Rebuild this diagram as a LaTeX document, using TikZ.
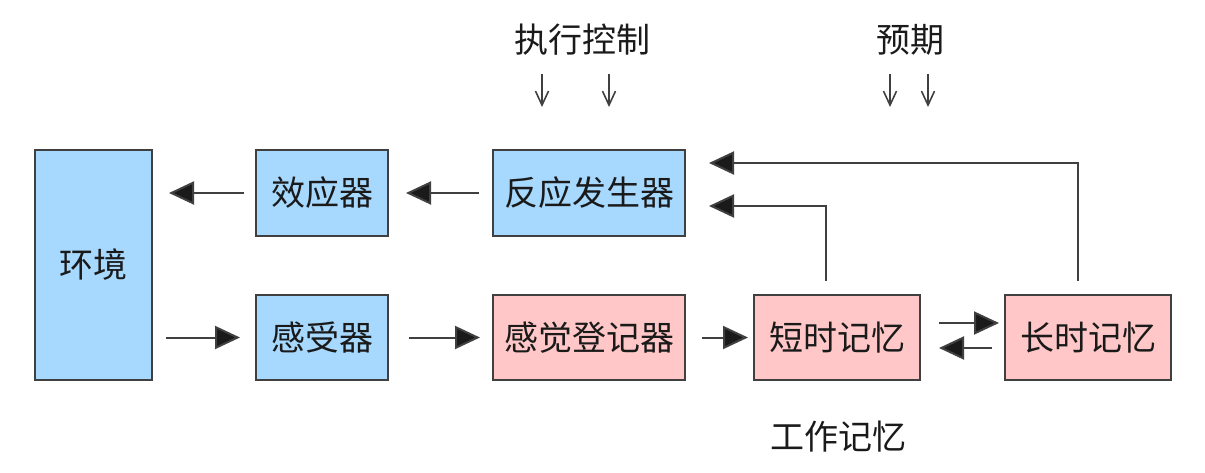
\documentclass[tikz,border=0pt]{standalone}
\usepackage{fontspec}
\newfontfamily\cjk{Noto Sans CJK SC}
\usetikzlibrary{arrows.meta}
\definecolor{bluefill}{HTML}{A7D8FE}
\definecolor{pinkfill}{HTML}{FFC7C7}
\definecolor{edge}{HTML}{404040}
\definecolor{txt}{HTML}{1A1A1A}
\tikzset{
  box/.style={draw=edge, line width=2pt, inner sep=0pt, text=txt, font=\cjk\fontsize{34}{34}\selectfont},
  bluebox/.style={box, fill=bluefill},
  pinkbox/.style={box, fill=pinkfill},
  lbl/.style={text=txt, font=\cjk\fontsize{34}{34}\selectfont, inner sep=0pt},
  arr/.style={draw=edge, line width=2pt, -{Triangle[length=25pt,width=23pt,fill=txt]}},
  small/.style={draw=edge, line width=1.6pt, -{Straight Barb[length=14pt,width=13pt,line width=1.6pt]}}
}
\begin{document}
\begin{tikzpicture}[x=1pt,y=-1pt]
\useasboundingbox (0,0) rectangle (1205,473);
% boxes
\node[bluebox, minimum width=117pt, minimum height=230pt] (env) at (93.5,265) {环境};
\node[bluebox, minimum width=132pt, minimum height=86pt] (eff) at (322,193) {效应器};
\node[bluebox, minimum width=192pt, minimum height=86pt] (resp) at (589,193) {反应发生器};
\node[bluebox, minimum width=132pt, minimum height=85pt] (rec) at (322,337.5) {感受器};
\node[pinkbox, minimum width=192pt, minimum height=85pt] (sens) at (589,337.5) {感觉登记器};
\node[pinkbox, minimum width=166pt, minimum height=85pt] (stm) at (837,337.5) {短时记忆};
\node[pinkbox, minimum width=166pt, minimum height=85pt] (ltm) at (1088,337.5) {长时记忆};
% labels
\node[lbl] (exec) at (582,40) {执行控制};
\node[lbl] (expect) at (910,40) {预期};
\node[lbl] (work) at (838,437) {工作记忆};
% small arrows
\coordinate (e1s) at (542,74); \coordinate (e1e) at (542,107);
\coordinate (e2s) at (609,74); \coordinate (e2e) at (609,107);
\coordinate (p1s) at (890,74); \coordinate (p1e) at (890,107);
\coordinate (p2s) at (928,74); \coordinate (p2e) at (928,107);
\draw[small] (e1s) -- (e1e);
\draw[small] (e2s) -- (e2e);
\draw[small] (p1s) -- (p1e);
\draw[small] (p2s) -- (p2e);
% main arrows
\draw[arr, shorten <=11pt, shorten >=16pt] (eff.west) -- (env.east |- eff.west);
\draw[arr, shorten <=13pt, shorten >=17pt] (resp.west) -- (eff.east);
\draw[arr, shorten <=13pt, shorten >=15pt] (env.east |- rec.west) -- (rec.west);
\draw[arr, shorten <=20pt, shorten >=12pt] (rec.east) -- (sens.west);
\draw[arr, shorten <=16pt, shorten >=5pt] (sens.east) -- (stm.west);
\draw[arr, shorten <=18pt, shorten >=5pt] ([yshift=14.5pt]stm.east) -- ([yshift=14.5pt]ltm.west);
\draw[arr, shorten <=12pt, shorten >=18pt] ([yshift=-10.5pt]ltm.west) -- ([yshift=-10.5pt]stm.east);
\draw[arr, shorten <=14pt, shorten >=23pt] (826,294.5) -- (826,206) -- (resp.east |- 0,206);
\draw[arr, shorten <=14pt, shorten >=23pt] (1078,294.5) -- (1078,163) -- (resp.east |- 0,163);
\end{tikzpicture}
\end{document}
